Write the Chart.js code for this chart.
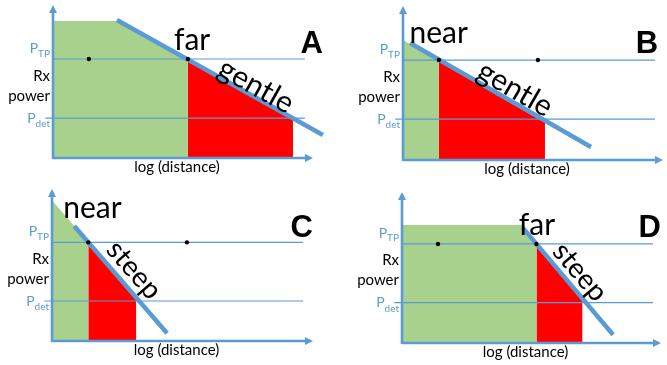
<!DOCTYPE html>
<html><head><meta charset="utf-8">
<script src="https://cdn.jsdelivr.net/npm/chart.js@4.4.1/dist/chart.umd.min.js"></script>
<style>
html,body{margin:0;padding:0;background:#fff;}
#wrap{position:relative;width:667px;height:365px;overflow:hidden;background:#fff;}
canvas{position:absolute;}
</style></head><body>
<div id="wrap">
<canvas id="cA" width="333" height="182" style="left:0px;top:0px"></canvas>
<canvas id="cB" width="334" height="182" style="left:333px;top:0px"></canvas>
<canvas id="cC" width="333" height="183" style="left:0px;top:182px"></canvas>
<canvas id="cD" width="334" height="183" style="left:333px;top:182px"></canvas>
</div>
<script>
// ---------- data (axis units: log distance 0..10, Rx power 0..10) ----------
const panelNames    = ['A', 'B', 'C', 'D'];
const distanceWords = ['far', 'near', 'near', 'far'];
const slopeWords    = ['gentle', 'gentle', 'steep', 'steep'];
const yLabelRx      = 'Rx';
const yLabelPower   = 'power';
const xTitle        = 'log (distance)';
const ptpLevels     = [6.47, 6.49, 6.49, 6.56];   // P_TP
const pdetLevels    = [2.61, 2.66, 2.63, 2.67];   // P_det
const levelLineEnd  = [9.69, 9.69, 9.62, 9.69];

const slopeA = [{x:2.46, y:9.02}, {x:10.38, y:1.50}];
const slopeB = [{x:0.27, y:7.60}, {x:7.23,  y:0.84}];
const slopeC = [{x:0.85, y:7.56}, {x:4.41,  y:0.51}];
const slopeD = [{x:4.65, y:7.66}, {x:8.15,  y:0.55}];

const greenA = [{x:0, y:8.95}, {x:2.46, y:8.95}, {x:5.19, y:6.47}];
const greenB = [{x:0, y:7.80}, {x:1.38, y:6.49}];
const greenC = [{x:0, y:9.26}, {x:1.39, y:6.49}];
const greenD = [{x:0, y:7.81}, {x:4.62, y:7.81}, {x:5.19, y:6.56}];

const redA = [{x:5.19, y:6.47}, {x:9.23, y:2.61}];
const redB = [{x:1.38, y:6.49}, {x:5.46, y:2.62}];
const redC = [{x:1.39, y:6.49}, {x:3.23, y:2.70}];
const redD = [{x:5.19, y:6.56}, {x:6.97, y:2.75}];

const dotsA = [{x:1.38, y:6.47}, {x:5.19, y:6.47}];
const dotsB = [{x:1.38, y:6.49}, {x:5.19, y:6.49}];
const dotsC = [{x:1.39, y:6.49}, {x:5.17, y:6.49}];
const dotsD = [{x:1.39, y:6.56}, {x:5.19, y:6.56}];

// ---------- layout / style ----------
const BLUE = '#5B9BD5', GREEN = '#A9D18E', RED = '#FF0000';
const FONT = 'Lato, "Open Sans", sans-serif';
const pads = [
  {left:53, right:20, top:5,  bottom:24},
  {left:70, right:4,  top:6,  bottom:22},
  {left:52, right:20, top:7,  bottom:24},
  {left:69, right:6,  top:10, bottom:22}
];
// label anchors in axis units: [distance word (center, baseline)], [slope word center], [panel letter right, baseline]
const wordPos   = [[5.35,7.06],[1.37,7.60],[1.55,8.09],[5.21,7.15]];
const slopePos  = [[7.81,4.71],[4.31,4.61],[3.14,4.67],[6.87,4.70]];
const letterPos = [[10.38,6.86],[9.81,6.95],[10.0,6.84],[10.0,7.02]];

const slopes = [slopeA, slopeB, slopeC, slopeD];
const greens = [greenA, greenB, greenC, greenD];
const reds   = [redA, redB, redC, redD];
const dots   = [dotsA, dotsB, dotsC, dotsD];

function drawSub(ctx, main, sub, right, baseMain, baseSub) {
  ctx.font = '14px ' + FONT;
  const wm = ctx.measureText(main).width;
  ctx.font = '10px ' + FONT;
  const ws = ctx.measureText(sub).width;
  ctx.textAlign = 'left';
  ctx.fillText(sub, right - ws, baseSub);
  ctx.font = '14px ' + FONT;
  ctx.fillText(main, right - ws - wm, baseMain);
}

const decorPlugin = {
  id: 'decor',
  afterDatasetsDraw(chart) {
    const ctx = chart.ctx, xs = chart.scales.x, ys = chart.scales.y;
    const x0 = xs.getPixelForValue(0), y0 = ys.getPixelForValue(0);
    const xe = xs.getPixelForValue(10), ye = ys.getPixelForValue(10);
    ctx.save();
    ctx.strokeStyle = BLUE; ctx.fillStyle = BLUE; ctx.lineWidth = 2.6;
    ctx.beginPath();
    ctx.moveTo(x0, y0); ctx.lineTo(xe - 6, y0);
    ctx.moveTo(x0, y0 + 1); ctx.lineTo(x0, ye + 6);
    ctx.stroke();
    ctx.beginPath();
    ctx.moveTo(xe, y0); ctx.lineTo(xe - 8, y0 - 4); ctx.lineTo(xe - 8, y0 + 4); ctx.closePath();
    ctx.moveTo(x0, ye); ctx.lineTo(x0 - 4, ye + 8); ctx.lineTo(x0 + 4, ye + 8); ctx.closePath();
    ctx.fill();
    ctx.restore();
  },
  afterDraw(chart) {
    const i = chart.options.plugins.decor.panel;
    const ctx = chart.ctx, xs = chart.scales.x, ys = chart.scales.y;
    const x0 = xs.getPixelForValue(0), y0 = ys.getPixelForValue(0);
    const xe = xs.getPixelForValue(10);
    const ptpY = ys.getPixelForValue(ptpLevels[i]);
    const pdetY = ys.getPixelForValue(pdetLevels[i]);
    ctx.save();
    // y labels
    ctx.fillStyle = BLUE;
    const right = x0 - 3;
    drawSub(ctx, 'P', 'TP', right, ptpY - 6, ptpY - 2.5);
    drawSub(ctx, 'P', 'det', right, pdetY + 4.5, pdetY + 9);
    ctx.fillStyle = '#000';
    ctx.font = '15px ' + FONT;
    ctx.textAlign = 'right';
    ctx.fillText(yLabelRx, right, ptpY + 21.5);
    ctx.fillText(yLabelPower, right, ptpY + 41.5);
    // x title
    ctx.textAlign = 'center';
    ctx.font = '15px ' + FONT;
    ctx.fillText(xTitle, (x0 + xe) / 2 - 6, y0 + 14);
    // distance word
    ctx.font = '30px ' + FONT;
    ctx.fillText(distanceWords[i], xs.getPixelForValue(wordPos[i][0]), ys.getPixelForValue(wordPos[i][1]));
    // slope word, rotated along the line
    const s = slopes[i];
    const ang = Math.atan2(ys.getPixelForValue(s[1].y) - ys.getPixelForValue(s[0].y),
                           xs.getPixelForValue(s[1].x) - xs.getPixelForValue(s[0].x));
    ctx.translate(xs.getPixelForValue(slopePos[i][0]), ys.getPixelForValue(slopePos[i][1]));
    ctx.rotate(ang);
    ctx.textBaseline = 'middle';
    ctx.font = (i < 2 ? '30px ' : '28px ') + FONT;
    ctx.fillText(slopeWords[i], 0, 0);
    ctx.setTransform(1, 0, 0, 1, 0, 0);
    // panel letter
    ctx.textBaseline = 'alphabetic';
    ctx.textAlign = 'right';
    ctx.font = 'bold 31px "Liberation Sans", Arial, sans-serif';
    ctx.fillText(panelNames[i], xs.getPixelForValue(letterPos[i][0]), ys.getPixelForValue(letterPos[i][1]));
    ctx.restore();
  }
};

['cA', 'cB', 'cC', 'cD'].forEach((id, i) => {
  new Chart(document.getElementById(id), {
    type: 'scatter',
    data: {
      datasets: [
        { data: dots[i], pointRadius: 2.2, pointBackgroundColor: '#000', pointBorderWidth: 0, showLine: false, order: 0, clip: false },
        { data: slopes[i], showLine: true, borderColor: BLUE, borderWidth: 4.5, pointRadius: 0, order: 1, clip: false, borderCapStyle: 'butt' },
        { data: [{x:0, y:ptpLevels[i]}, {x:levelLineEnd[i], y:ptpLevels[i]}], showLine: true, borderColor: BLUE, borderWidth: 1.2, pointRadius: 0, order: 2, clip: false },
        { data: [{x:-0.3, y:pdetLevels[i]}, {x:levelLineEnd[i], y:pdetLevels[i]}], showLine: true, borderColor: BLUE, borderWidth: 1.2, pointRadius: 0, order: 2, clip: false },
        { data: reds[i], showLine: true, fill: 'origin', backgroundColor: RED, borderWidth: 0, borderColor: RED, pointRadius: 0, order: 3 },
        { data: greens[i], showLine: true, fill: 'origin', backgroundColor: GREEN, borderWidth: 0, borderColor: GREEN, pointRadius: 0, order: 4 }
      ]
    },
    options: {
      responsive: false, animation: false, devicePixelRatio: 1, events: [],
      layout: { padding: pads[i] },
      plugins: { legend: { display: false }, tooltip: { enabled: false }, decor: { panel: i } },
      scales: {
        x: { type: 'linear', min: 0, max: 10, display: false },
        y: { type: 'linear', min: 0, max: 10, display: false }
      }
    },
    plugins: [decorPlugin]
  });
});
</script>
</body></html>
